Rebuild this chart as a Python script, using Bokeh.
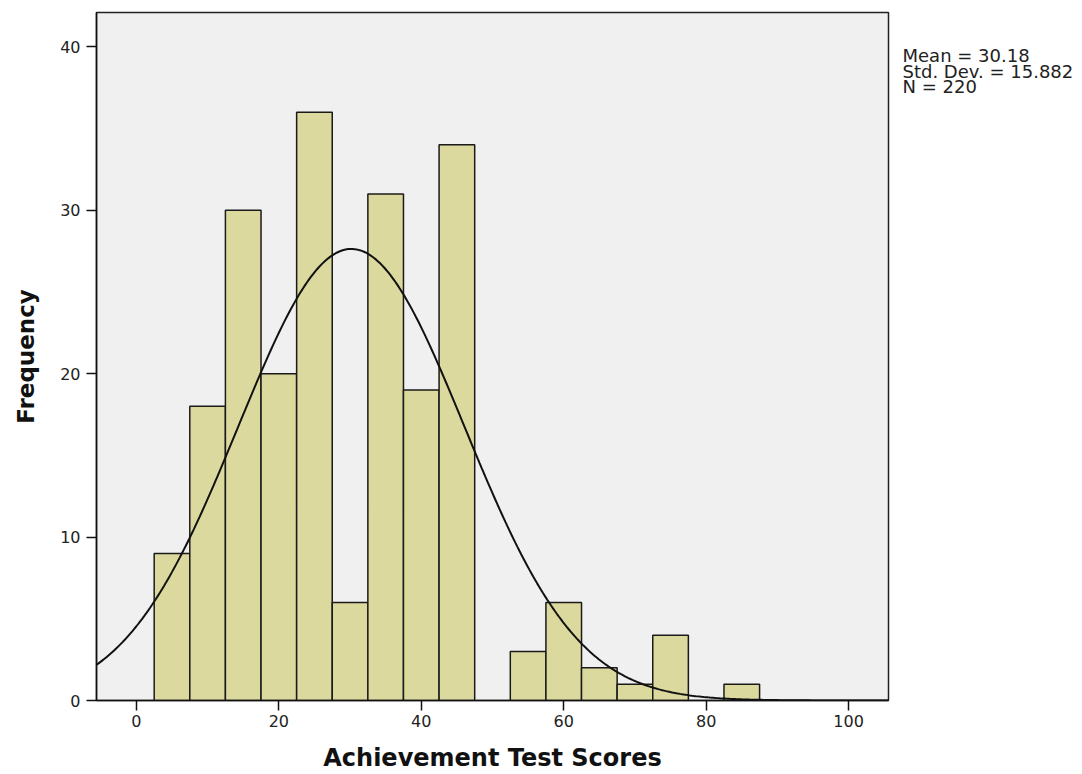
import numpy as np
from bokeh.plotting import figure
from bokeh.layouts import row
from bokeh.models import Range1d, FixedTicker
from bokeh.core.properties import value
from bokeh.embed import file_html
from bokeh.resources import INLINE

# ---- data ----
bin_centers = [5, 10, 15, 20, 25, 30, 35, 40, 45, 50, 55, 60, 65, 70, 75, 80, 85]
counts = [9, 18, 30, 20, 36, 6, 31, 19, 34, 0, 3, 6, 2, 1, 4, 0, 1]
bin_width = 5
stat_mean = 30.18
stat_sd = 15.882
stat_n = 220
x_ticks = [0, 20, 40, 60, 80, 100]
y_ticks = [0, 10, 20, 30, 40]
stats_lines = ["Mean = 30.18", "Std. Dev. = 15.882", "N = 220"]
x_title = "Achievement Test Scores"
y_title = "Frequency"

X_MIN, X_MAX = -5.6, 105.6
Y_MIN, Y_MAX = 0, 42.1

p = figure(width=896, height=774, output_backend="svg", toolbar_location=None,
           x_range=Range1d(X_MIN, X_MAX), y_range=Range1d(Y_MIN, Y_MAX),
           min_border_left=96, min_border_right=8, min_border_top=12, min_border_bottom=74)

p.background_fill_color = "#f0f0f0"
p.border_fill_color = "#ffffff"
p.outline_line_color = "#222222"
p.outline_line_width = 1.5
p.xgrid.visible = False
p.ygrid.visible = False

# bars
lefts, rights, tops = [], [], []
for c, v in zip(bin_centers, counts):
    if v > 0:
        lefts.append(c - bin_width / 2)
        rights.append(c + bin_width / 2)
        tops.append(v)
p.quad(left=lefts, right=rights, bottom=0, top=tops,
       fill_color="#dcd99e", line_color="#1a1a1a", line_width=1.5)

# fitted normal curve from the displayed statistics
xs = np.linspace(X_MIN, X_MAX, 400)
ys = stat_n * bin_width * np.exp(-0.5 * ((xs - stat_mean) / stat_sd) ** 2) / (stat_sd * np.sqrt(2 * np.pi))
p.line(xs, ys, line_color="#111111", line_width=2)

# axes
for ax in (p.xaxis[0], p.yaxis[0]):
    ax.axis_line_color = "#111111"
    ax.axis_line_width = 1.5
    ax.major_tick_line_color = "#111111"
    ax.major_tick_line_width = 1.5
    ax.major_tick_in = 0
    ax.major_tick_out = 10
    ax.minor_tick_line_color = None
    ax.major_label_text_font = "DejaVu Sans"
    ax.major_label_text_font_size = "16px"
    ax.major_label_text_color = "#222222"
    ax.axis_label_text_font = "DejaVu Sans"
    ax.axis_label_text_font_style = "bold"
    ax.axis_label_text_color = "#111111"

p.xaxis.ticker = FixedTicker(ticks=x_ticks)
p.yaxis.ticker = FixedTicker(ticks=y_ticks)
p.xaxis.axis_label = x_title
p.yaxis.axis_label = y_title
p.xaxis.axis_label_text_font_size = "24px"
p.yaxis.axis_label_text_font_size = "23px"
p.xaxis.major_label_standoff = 4
p.yaxis.major_label_standoff = 6
p.xaxis.axis_label_standoff = 14
p.yaxis.axis_label_standoff = 18

# statistics text panel (pixel-like coordinates, y downward)
s = figure(width=176, height=774, output_backend="svg", toolbar_location=None,
           x_range=Range1d(0, 176), y_range=Range1d(774, 0),
           x_axis_location=None, y_axis_location=None, min_border=0)
s.outline_line_color = None
s.background_fill_color = "#ffffff"
s.border_fill_color = "#ffffff"
s.xgrid.visible = False
s.ygrid.visible = False
s.text(x=[6, 6, 6], y=[37, 54, 71], text=stats_lines, text_baseline="top",
       text_font=value("DejaVu Sans"), text_font_size="18px", text_color="#222222")

layout = row(p, s)
open("out.html", "w").write(file_html(layout, INLINE))
